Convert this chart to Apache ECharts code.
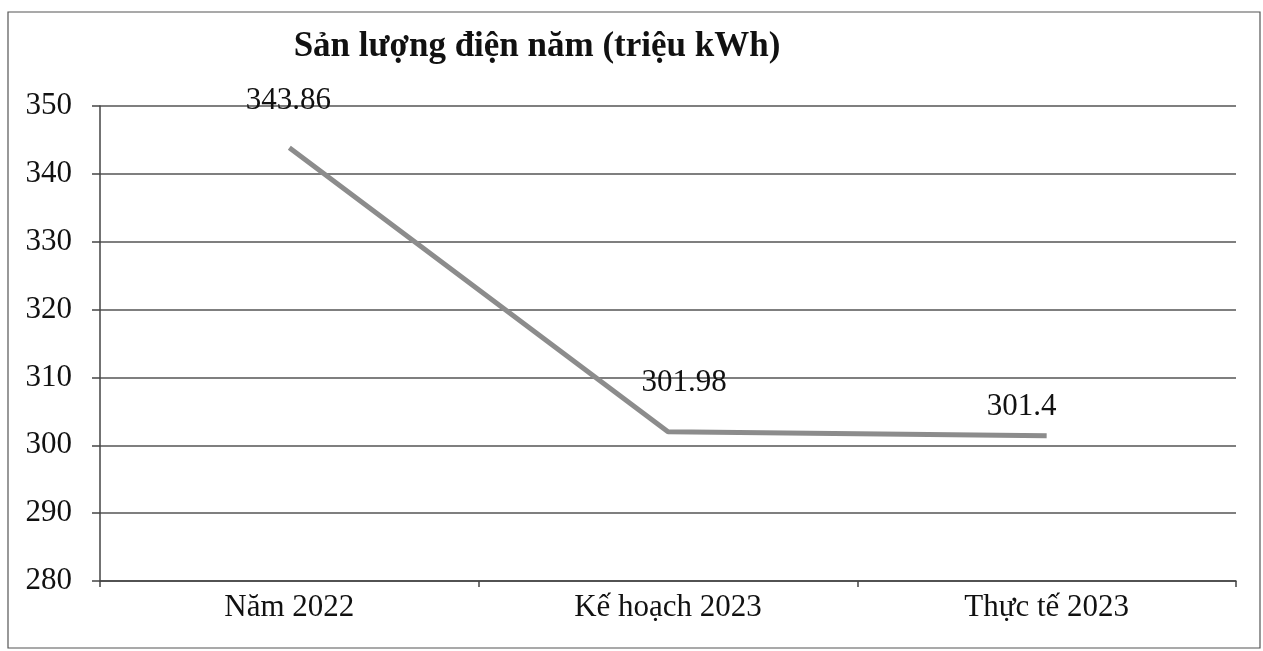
<!DOCTYPE html>
<html><head><meta charset="utf-8">
<style>html,body{margin:0;padding:0;background:#fff}#c{width:1263px;height:651px}</style>
<script src="https://cdn.jsdelivr.net/npm/echarts@6/dist/echarts.min.js"></script>
</head><body><div id="c"></div>
<script>
const categories = ['Năm 2022', 'Kế hoạch 2023', 'Thực tế 2023'];
const values = [343.86, 301.98, 301.4];
const labelOffsets = [[-1, -47], [16, -49], [-25, -29]];
const yTicks = [280, 290, 300, 310, 320, 330, 340, 350];

const serif = '"Liberation Serif", "DejaVu Serif", serif';
const chart = echarts.init(document.getElementById('c'));
chart.setOption({
  backgroundColor: '#fff',
  animation: false,
  title: {
    text: 'Sản lượng điện năm (triệu kWh)',
    left: 532, top: 24, textAlign: 'center',
    textStyle: { fontFamily: serif, fontWeight: 'bold', fontSize: 35, color: '#111' }
  },
  graphic: [{
    type: 'rect', shape: { x: 8, y: 12, width: 1252, height: 636 },
    style: { fill: 'none', stroke: '#555', lineWidth: 1.2 }, silent: true
  }],
  grid: { left: 100, right: 27, top: 106, bottom: 70 },
  xAxis: {
    type: 'category', data: categories, boundaryGap: true,
    axisLine: { show: true, lineStyle: { color: '#444', width: 1.5 } },
    axisTick: { show: true, length: 6, inside: false, lineStyle: { color: '#444', width: 1.5 } },
    axisLabel: { fontFamily: serif, fontSize: 31, color: '#111', margin: 11 },
    splitLine: { show: false }
  },
  yAxis: {
    type: 'value', min: yTicks[0], max: yTicks[yTicks.length - 1], interval: 10,
    axisLine: { show: true, lineStyle: { color: '#444', width: 1.5 } },
    axisTick: { show: true, length: 8, lineStyle: { color: '#444', width: 1.5 } },
    axisLabel: { fontFamily: serif, fontSize: 31, color: '#111', margin: 28 },
    splitLine: { show: true, lineStyle: { color: '#555', width: 1.5 } }
  },
  series: [{
    type: 'line',
    data: values.map((v, i) => ({
      value: v,
      label: { show: true, offset: labelOffsets[i] }
    })),
    symbol: 'circle', symbolSize: 1, showSymbol: true,
    itemStyle: { color: 'rgba(0,0,0,0)' },
    lineStyle: { color: '#8c8c8c', width: 5 },
    label: {
      show: true, position: 'inside',
      fontFamily: serif, fontSize: 31, color: '#111',
      formatter: p => String(p.value)
    }
  }]
});
</script></body></html>
